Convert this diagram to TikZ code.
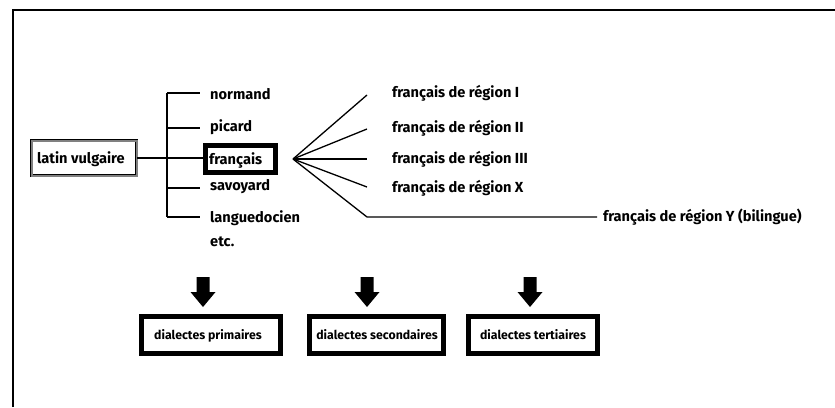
\documentclass[tikz,border=0pt]{standalone}
\usepackage{fontspec}
\setmainfont{Fira Sans}
\begin{document}
\begin{tikzpicture}[x=1pt,y=-1pt,
  lbl/.style={anchor=base west,inner sep=0pt,font=\fontsize{14.6}{16}\selectfont\bfseries},
  dlbl/.style={anchor=base,inner sep=0pt,font=\fontsize{12.3}{14}\selectfont\bfseries},
  conn/.style={line width=1.3pt},
  thickbox/.style={draw=black,line width=5pt,inner sep=0pt},
  latinbox/.style={draw=black,line width=0.8pt,double=black!50,double distance=2pt,fill=white,inner sep=0pt},
  blockarrow/.style={fill=black}]
\useasboundingbox (0,0) rectangle (835,407);
% frame
\draw[line width=1.4pt] (13,407) -- (13,10) -- (835,10);
% latin vulgaire
\node[latinbox,minimum width=105pt,minimum height=35pt] (lv) at (84,158) {};
\node[lbl] (lvt) at (37,163) {latin vulgaire};
% francais
\node[thickbox,minimum width=70pt,minimum height=27pt] (fr) at (240.5,159) {};
\node[lbl] (frt) at (209,164) {français};
% left tree
\coordinate (vt) at (167,93);
\coordinate (vb) at (167,217);
\coordinate (vm) at (167,158);
\coordinate (en) at (200,93);
\coordinate (ep) at (200,128);
\coordinate (es) at (200,188);
\coordinate (el) at (200,217);
\draw[conn] (lv.east |- vm) -- (fr.west |- vm);
\draw[conn] (vt) -- (vb);
\draw[conn] (vt) -- (en);
\draw[conn] (vt |- ep) -- (ep);
\draw[conn] (vt |- es) -- (es);
\draw[conn] (vb) -- (el);
\node[lbl] (nor) at (210,99.5) {normand};
\node[lbl] (pic) at (210,131) {picard};
\node[lbl] (sav) at (210,190) {savoyard};
\node[lbl] (lan) at (210,222) {languedocien};
\node[lbl] (etc) at (210,246) {etc.};
% fan
\coordinate (f) at (293,159);
\coordinate (r1) at (367,95);
\coordinate (r2) at (367,129);
\coordinate (r3) at (367,159);
\coordinate (r4) at (367,187);
\coordinate (r5) at (367,217);
\coordinate (r6) at (597,217);
\draw[conn] (f) -- (r1);
\draw[conn] (f) -- (r2);
\draw[conn] (f) -- (r3);
\draw[conn] (f) -- (r4);
\draw[conn] (f) -- (r5) -- (r6);
\node[lbl] (g1) at (392,97) {français de région I};
\node[lbl] (g2) at (392,132) {français de région II};
\node[lbl] (g3) at (392,163) {français de région III};
\node[lbl] (g4) at (392,192) {français de région X};
\node[lbl] (g5) at (603,221) {français de région Y (bilingue)};
% arrows
\foreach \ax in {203,367,530}{
  \fill[blockarrow] (\ax-6.5,277) -- (\ax+6.5,277) -- (\ax+6.5,292) -- (\ax+12.5,292)
     -- (\ax,307) -- (\ax-12.5,292) -- (\ax-6.5,292) -- cycle;
}
% dialect boxes
\node[thickbox,minimum width=139pt,minimum height=37pt] (d1) at (211,335) {};
\node[thickbox,minimum width=134pt,minimum height=37pt] (d2) at (376.5,335) {};
\node[thickbox,minimum width=129pt,minimum height=37pt] (d3) at (533,335) {};
\node[dlbl] (d1t) at (208,339.5) {dialectes primaires};
\node[dlbl] (d2t) at (377,339.5) {dialectes secondaires};
\node[dlbl] (d3t) at (533,339.5) {dialectes tertiaires};
\end{tikzpicture}
\end{document}
